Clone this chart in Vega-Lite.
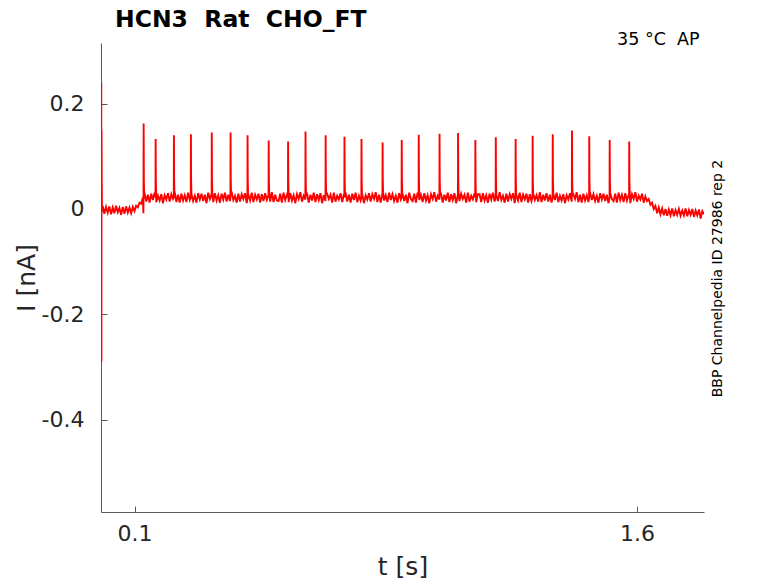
{
"$schema": "https://vega.github.io/schema/vega-lite/v6.json",
"width": 603,
"height": 469,
"autosize": {"type": "none"},
"padding": {"left": 101, "top": 43, "right": 74, "bottom": 71},
"background": "white",
"title": {"text": "HCN3 \u00a0Rat \u00a0CHO_FT", "anchor": "start", "frame": "group", "dx": 14, "offset": 0, "font": "DejaVu Sans", "fontSize": 23.5, "fontWeight": "bold", "color": "#000000"},
"config": {
  "view": {"stroke": null},
  "axis": {"grid": false, "domainColor": "#595959", "tickColor": "#595959", "labelColor": "#262626", "titleColor": "#262626", "labelFont": "DejaVu Sans", "titleFont": "DejaVu Sans", "labelFontSize": 22, "titleFontSize": 25, "titleFontWeight": "normal", "tickSize": -6}
},
"layer": [
{
"data": {"values": [
{"t":0.0004,"i":0.0},{"t":0.0008,"i":0.24},{"t":0.0012,"i":-0.29},{"t":0.0016,"i":0.15},{"t":0.0022,"i":0.055},{"t":0.003,"i":-0.005},
{"t":0.005,"i":0.006},{"t":0.010,"i":-0.009},{"t":0.015,"i":0.004},{"t":0.020,"i":-0.007},{"t":0.025,"i":0.005},{"t":0.030,"i":-0.010},{"t":0.035,"i":0.003},{"t":0.040,"i":-0.008},{"t":0.045,"i":0.006},{"t":0.050,"i":-0.006},{"t":0.055,"i":0.002},{"t":0.060,"i":-0.011},{"t":0.065,"i":0.004},{"t":0.070,"i":-0.009},{"t":0.075,"i":0.005},{"t":0.080,"i":-0.007},{"t":0.085,"i":0.003},{"t":0.090,"i":-0.008},{"t":0.095,"i":0.004},
{"t":0.100,"i":-0.004},{"t":0.105,"i":0.006},{"t":0.110,"i":0.003},{"t":0.115,"i":0.012},{"t":0.120,"i":0.010},{"t":0.125,"i":0.022},
{"t":0.130,"i":0.030},{"t":0.135,"i":0.014},{"t":0.140,"i":0.027},{"t":0.145,"i":0.012},{"t":0.150,"i":0.029},{"t":0.155,"i":0.017},{"t":0.160,"i":0.031},{"t":0.165,"i":0.013},{"t":0.170,"i":0.025},{"t":0.175,"i":0.016},
{"t":0.180,"i":0.028},{"t":0.185,"i":0.011},{"t":0.190,"i":0.026},{"t":0.195,"i":0.018},{"t":0.200,"i":0.030},{"t":0.205,"i":0.014},{"t":0.210,"i":0.028},{"t":0.215,"i":0.019},{"t":0.220,"i":0.032},{"t":0.225,"i":0.013},
{"t":0.230,"i":0.027},{"t":0.235,"i":0.012},{"t":0.240,"i":0.029},{"t":0.245,"i":0.016},{"t":0.250,"i":0.026},{"t":0.255,"i":0.013},{"t":0.260,"i":0.031},{"t":0.265,"i":0.017},{"t":0.270,"i":0.028},{"t":0.275,"i":0.015},
{"t":0.280,"i":0.025},{"t":0.285,"i":0.012},{"t":0.290,"i":0.030},{"t":0.295,"i":0.018},{"t":0.300,"i":0.029},{"t":0.305,"i":0.015},{"t":0.310,"i":0.027},{"t":0.315,"i":0.011},{"t":0.320,"i":0.031},{"t":0.325,"i":0.019},
{"t":0.330,"i":0.028},{"t":0.335,"i":0.013},{"t":0.340,"i":0.030},{"t":0.345,"i":0.016},{"t":0.350,"i":0.026},{"t":0.355,"i":0.012},{"t":0.360,"i":0.029},{"t":0.365,"i":0.018},{"t":0.370,"i":0.031},{"t":0.375,"i":0.014},
{"t":0.380,"i":0.027},{"t":0.385,"i":0.015},{"t":0.390,"i":0.032},{"t":0.395,"i":0.017},{"t":0.400,"i":0.025},{"t":0.405,"i":0.012},{"t":0.410,"i":0.029},{"t":0.415,"i":0.014},{"t":0.420,"i":0.028},{"t":0.425,"i":0.019},
{"t":0.430,"i":0.030},{"t":0.435,"i":0.011},{"t":0.440,"i":0.026},{"t":0.445,"i":0.016},{"t":0.450,"i":0.031},{"t":0.455,"i":0.013},{"t":0.460,"i":0.027},{"t":0.465,"i":0.018},{"t":0.470,"i":0.029},{"t":0.475,"i":0.012},
{"t":0.480,"i":0.028},{"t":0.485,"i":0.015},{"t":0.490,"i":0.030},{"t":0.495,"i":0.017},{"t":0.500,"i":0.026},{"t":0.505,"i":0.014},{"t":0.510,"i":0.032},{"t":0.515,"i":0.013},{"t":0.520,"i":0.027},{"t":0.525,"i":0.016},
{"t":0.530,"i":0.015},{"t":0.535,"i":0.029},{"t":0.540,"i":0.012},{"t":0.545,"i":0.031},{"t":0.550,"i":0.017},{"t":0.555,"i":0.027},{"t":0.560,"i":0.013},{"t":0.565,"i":0.030},{"t":0.570,"i":0.016},{"t":0.575,"i":0.026},
{"t":0.580,"i":0.011},{"t":0.585,"i":0.028},{"t":0.590,"i":0.019},{"t":0.595,"i":0.032},{"t":0.600,"i":0.014},{"t":0.605,"i":0.025},{"t":0.610,"i":0.018},{"t":0.615,"i":0.029},{"t":0.620,"i":0.012},{"t":0.625,"i":0.027},
{"t":0.630,"i":0.016},{"t":0.635,"i":0.031},{"t":0.640,"i":0.013},{"t":0.645,"i":0.028},{"t":0.650,"i":0.017},{"t":0.655,"i":0.030},{"t":0.660,"i":0.011},{"t":0.665,"i":0.026},{"t":0.670,"i":0.015},{"t":0.675,"i":0.029},
{"t":0.680,"i":0.019},{"t":0.685,"i":0.027},{"t":0.690,"i":0.012},{"t":0.695,"i":0.031},{"t":0.700,"i":0.014},{"t":0.705,"i":0.025},{"t":0.710,"i":0.018},{"t":0.715,"i":0.030},{"t":0.720,"i":0.013},{"t":0.725,"i":0.028},
{"t":0.730,"i":0.030},{"t":0.735,"i":0.014},{"t":0.740,"i":0.027},{"t":0.745,"i":0.012},{"t":0.750,"i":0.029},{"t":0.755,"i":0.017},{"t":0.760,"i":0.031},{"t":0.765,"i":0.013},{"t":0.770,"i":0.025},{"t":0.775,"i":0.016},
{"t":0.780,"i":0.028},{"t":0.785,"i":0.011},{"t":0.790,"i":0.026},{"t":0.795,"i":0.018},{"t":0.800,"i":0.030},{"t":0.805,"i":0.014},{"t":0.810,"i":0.028},{"t":0.815,"i":0.019},{"t":0.820,"i":0.032},{"t":0.825,"i":0.013},
{"t":0.830,"i":0.027},{"t":0.835,"i":0.012},{"t":0.840,"i":0.029},{"t":0.845,"i":0.016},{"t":0.850,"i":0.026},{"t":0.855,"i":0.013},{"t":0.860,"i":0.031},{"t":0.865,"i":0.017},{"t":0.870,"i":0.028},{"t":0.875,"i":0.015},
{"t":0.880,"i":0.025},{"t":0.885,"i":0.012},{"t":0.890,"i":0.030},{"t":0.895,"i":0.018},{"t":0.900,"i":0.029},{"t":0.905,"i":0.015},{"t":0.910,"i":0.027},{"t":0.915,"i":0.011},{"t":0.920,"i":0.031},{"t":0.925,"i":0.019},
{"t":0.930,"i":0.015},{"t":0.935,"i":0.029},{"t":0.940,"i":0.012},{"t":0.945,"i":0.031},{"t":0.950,"i":0.017},{"t":0.955,"i":0.027},{"t":0.960,"i":0.013},{"t":0.965,"i":0.030},{"t":0.970,"i":0.016},{"t":0.975,"i":0.026},
{"t":0.980,"i":0.011},{"t":0.985,"i":0.028},{"t":0.990,"i":0.019},{"t":0.995,"i":0.032},{"t":1.000,"i":0.014},{"t":1.005,"i":0.025},{"t":1.010,"i":0.018},{"t":1.015,"i":0.029},{"t":1.020,"i":0.012},{"t":1.025,"i":0.027},
{"t":1.030,"i":0.016},{"t":1.035,"i":0.031},{"t":1.040,"i":0.013},{"t":1.045,"i":0.028},{"t":1.050,"i":0.017},{"t":1.055,"i":0.030},{"t":1.060,"i":0.011},{"t":1.065,"i":0.026},{"t":1.070,"i":0.015},{"t":1.075,"i":0.029},
{"t":1.080,"i":0.019},{"t":1.085,"i":0.027},{"t":1.090,"i":0.012},{"t":1.095,"i":0.031},{"t":1.100,"i":0.014},{"t":1.105,"i":0.025},{"t":1.110,"i":0.018},{"t":1.115,"i":0.030},{"t":1.120,"i":0.013},{"t":1.125,"i":0.028},
{"t":1.130,"i":0.028},{"t":1.135,"i":0.013},{"t":1.140,"i":0.030},{"t":1.145,"i":0.016},{"t":1.150,"i":0.026},{"t":1.155,"i":0.012},{"t":1.160,"i":0.029},{"t":1.165,"i":0.018},{"t":1.170,"i":0.031},{"t":1.175,"i":0.014},
{"t":1.180,"i":0.027},{"t":1.185,"i":0.015},{"t":1.190,"i":0.032},{"t":1.195,"i":0.017},{"t":1.200,"i":0.025},{"t":1.205,"i":0.012},{"t":1.210,"i":0.029},{"t":1.215,"i":0.014},{"t":1.220,"i":0.028},{"t":1.225,"i":0.019},
{"t":1.230,"i":0.030},{"t":1.235,"i":0.011},{"t":1.240,"i":0.026},{"t":1.245,"i":0.016},{"t":1.250,"i":0.031},{"t":1.255,"i":0.013},{"t":1.260,"i":0.027},{"t":1.265,"i":0.018},{"t":1.270,"i":0.029},{"t":1.275,"i":0.012},
{"t":1.280,"i":0.028},{"t":1.285,"i":0.015},{"t":1.290,"i":0.030},{"t":1.295,"i":0.017},{"t":1.300,"i":0.026},{"t":1.305,"i":0.014},{"t":1.310,"i":0.032},{"t":1.315,"i":0.013},{"t":1.320,"i":0.027},{"t":1.325,"i":0.016},
{"t":1.330,"i":0.030},{"t":1.335,"i":0.014},{"t":1.340,"i":0.027},{"t":1.345,"i":0.012},{"t":1.350,"i":0.029},{"t":1.355,"i":0.017},{"t":1.360,"i":0.031},{"t":1.365,"i":0.013},{"t":1.370,"i":0.025},{"t":1.375,"i":0.016},
{"t":1.380,"i":0.028},{"t":1.385,"i":0.011},{"t":1.390,"i":0.026},{"t":1.395,"i":0.018},{"t":1.400,"i":0.030},{"t":1.405,"i":0.014},{"t":1.410,"i":0.028},{"t":1.415,"i":0.019},{"t":1.420,"i":0.032},{"t":1.425,"i":0.013},
{"t":1.430,"i":0.027},{"t":1.435,"i":0.012},{"t":1.440,"i":0.029},{"t":1.445,"i":0.016},{"t":1.450,"i":0.026},{"t":1.455,"i":0.013},{"t":1.460,"i":0.031},{"t":1.465,"i":0.017},{"t":1.470,"i":0.028},{"t":1.475,"i":0.015},
{"t":1.480,"i":0.025},{"t":1.485,"i":0.012},{"t":1.490,"i":0.030},{"t":1.495,"i":0.018},{"t":1.500,"i":0.029},{"t":1.505,"i":0.015},{"t":1.510,"i":0.027},{"t":1.515,"i":0.011},{"t":1.520,"i":0.031},{"t":1.525,"i":0.019},
{"t":1.530,"i":0.015},{"t":1.535,"i":0.029},{"t":1.540,"i":0.012},{"t":1.545,"i":0.031},{"t":1.550,"i":0.017},{"t":1.555,"i":0.027},{"t":1.560,"i":0.013},{"t":1.565,"i":0.030},{"t":1.570,"i":0.016},{"t":1.575,"i":0.026},
{"t":1.580,"i":0.011},{"t":1.585,"i":0.028},{"t":1.590,"i":0.019},{"t":1.595,"i":0.032},{"t":1.600,"i":0.014},{"t":1.605,"i":0.025},{"t":1.610,"i":0.018},{"t":1.615,"i":0.029},{"t":1.620,"i":0.012},
{"t":1.625,"i":0.024},{"t":1.630,"i":0.015},{"t":1.635,"i":0.019},{"t":1.640,"i":0.008},{"t":1.645,"i":0.012},{"t":1.650,"i":0.000},{"t":1.655,"i":0.006},{"t":1.660,"i":-0.008},{"t":1.665,"i":0.003},{"t":1.670,"i":-0.010},
{"t":1.675,"i":0.001},{"t":1.680,"i":-0.012},{"t":1.685,"i":0.000},{"t":1.690,"i":-0.013},{"t":1.695,"i":-0.001},{"t":1.700,"i":-0.012},{"t":1.705,"i":0.001},{"t":1.710,"i":-0.014},{"t":1.715,"i":-0.002},{"t":1.720,"i":-0.011},
{"t":1.725,"i":0.000},{"t":1.730,"i":-0.013},{"t":1.735,"i":-0.003},{"t":1.740,"i":-0.012},{"t":1.745,"i":0.001},{"t":1.750,"i":-0.014},{"t":1.755,"i":-0.002},{"t":1.760,"i":-0.011},{"t":1.765,"i":0.000},{"t":1.770,"i":-0.015},
{"t":1.775,"i":-0.003},{"t":1.780,"i":-0.012},{"t":1.785,"i":-0.001},{"t":1.790,"i":-0.018},{"t":1.795,"i":-0.004},{"t":1.800,"i":-0.010},
{"t":0.1266,"i":-0.008},{"t":0.1269,"i":0.022},{"t":0.1273,"i":0.162},{"t":0.1279,"i":0.055},{"t":0.1287,"i":0.032},
{"t":0.1627,"i":0.022},{"t":0.1631,"i":0.133},{"t":0.1637,"i":0.055},{"t":0.1645,"i":0.032},
{"t":0.2173,"i":0.022},{"t":0.2177,"i":0.140},{"t":0.2183,"i":0.055},{"t":0.2191,"i":0.032},
{"t":0.2680,"i":0.022},{"t":0.2684,"i":0.142},{"t":0.2690,"i":0.055},{"t":0.2698,"i":0.032},
{"t":0.3303,"i":0.022},{"t":0.3307,"i":0.145},{"t":0.3313,"i":0.055},{"t":0.3321,"i":0.032},
{"t":0.3864,"i":0.022},{"t":0.3868,"i":0.145},{"t":0.3874,"i":0.055},{"t":0.3882,"i":0.032},
{"t":0.4371,"i":0.022},{"t":0.4375,"i":0.140},{"t":0.4381,"i":0.055},{"t":0.4389,"i":0.032},
{"t":0.5002,"i":0.022},{"t":0.5006,"i":0.130},{"t":0.5012,"i":0.055},{"t":0.5020,"i":0.032},
{"t":0.5581,"i":0.022},{"t":0.5585,"i":0.128},{"t":0.5591,"i":0.055},{"t":0.5599,"i":0.032},
{"t":0.6101,"i":0.022},{"t":0.6105,"i":0.147},{"t":0.6111,"i":0.055},{"t":0.6119,"i":0.032},
{"t":0.6702,"i":0.022},{"t":0.6706,"i":0.140},{"t":0.6712,"i":0.055},{"t":0.6720,"i":0.032},
{"t":0.7264,"i":0.022},{"t":0.7268,"i":0.137},{"t":0.7274,"i":0.055},{"t":0.7282,"i":0.032},
{"t":0.7772,"i":0.022},{"t":0.7776,"i":0.133},{"t":0.7782,"i":0.055},{"t":0.7790,"i":0.032},
{"t":0.8402,"i":0.022},{"t":0.8406,"i":0.126},{"t":0.8412,"i":0.055},{"t":0.8420,"i":0.032},
{"t":0.8973,"i":0.022},{"t":0.8977,"i":0.131},{"t":0.8983,"i":0.055},{"t":0.8991,"i":0.032},
{"t":0.9481,"i":0.022},{"t":0.9485,"i":0.141},{"t":0.9491,"i":0.055},{"t":0.9499,"i":0.032},
{"t":1.0102,"i":0.022},{"t":1.0106,"i":0.143},{"t":1.0112,"i":0.055},{"t":1.0120,"i":0.032},
{"t":1.0655,"i":0.022},{"t":1.0659,"i":0.144},{"t":1.0665,"i":0.055},{"t":1.0673,"i":0.032},
{"t":1.1171,"i":0.022},{"t":1.1175,"i":0.131},{"t":1.1181,"i":0.055},{"t":1.1189,"i":0.032},
{"t":1.1781,"i":0.022},{"t":1.1785,"i":0.136},{"t":1.1791,"i":0.055},{"t":1.1799,"i":0.032},
{"t":1.2373,"i":0.022},{"t":1.2377,"i":0.133},{"t":1.2383,"i":0.055},{"t":1.2391,"i":0.032},
{"t":1.2881,"i":0.022},{"t":1.2885,"i":0.139},{"t":1.2891,"i":0.055},{"t":1.2899,"i":0.032},
{"t":1.3481,"i":0.022},{"t":1.3485,"i":0.142},{"t":1.3491,"i":0.055},{"t":1.3499,"i":0.032},
{"t":1.4055,"i":0.022},{"t":1.4059,"i":0.149},{"t":1.4065,"i":0.055},{"t":1.4073,"i":0.032},
{"t":1.4571,"i":0.022},{"t":1.4575,"i":0.138},{"t":1.4581,"i":0.055},{"t":1.4589,"i":0.032},
{"t":1.5181,"i":0.022},{"t":1.5185,"i":0.131},{"t":1.5191,"i":0.055},{"t":1.5199,"i":0.032},
{"t":1.5764,"i":0.022},{"t":1.5768,"i":0.128},{"t":1.5774,"i":0.055},{"t":1.5782,"i":0.032}
]},
"mark": {"type": "line", "color": "#ff0000", "strokeWidth": 1.9, "clip": true},
"encoding": {
  "x": {"field": "t", "type": "quantitative", "scale": {"domain": [0, 1.8], "nice": false, "zero": false},
        "axis": {"title": "t [s]", "values": [0.1, 1.6], "labelPadding": 17, "titlePadding": 10, "labelFlush": false}},
  "y": {"field": "i", "type": "quantitative", "scale": {"domain": [-0.575, 0.315], "nice": false, "zero": false},
        "axis": {"title": "I [nA]", "values": [-0.4, -0.2, 0, 0.2], "labelPadding": 23, "titlePadding": 2, "labelExpr": "datum.value == 0 ? '0' : replace(format(datum.value, '.1f'), '\u2212', '-')"}},
  "order": {"field": "t", "type": "quantitative"}
}
},
{
"data": {"values": [{}]},
"mark": {"type": "text", "text": "35 °C \u00a0AP", "align": "right", "baseline": "alphabetic", "dx": -4.5, "dy": 2.3, "font": "DejaVu Sans", "fontSize": 17.5, "color": "#000000"},
"encoding": {"x": {"datum": 1.8}, "y": {"datum": 0.315}}
},
{
"data": {"values": [{}]},
"mark": {"type": "text", "text": "BBP Channelpedia ID 27986 rep 2", "angle": 270, "align": "center", "baseline": "alphabetic", "dy": 17.7, "font": "DejaVu Sans", "fontSize": 14, "color": "#000000"},
"encoding": {"x": {"datum": 1.8}, "y": {"datum": -0.132}}
}
]
}
